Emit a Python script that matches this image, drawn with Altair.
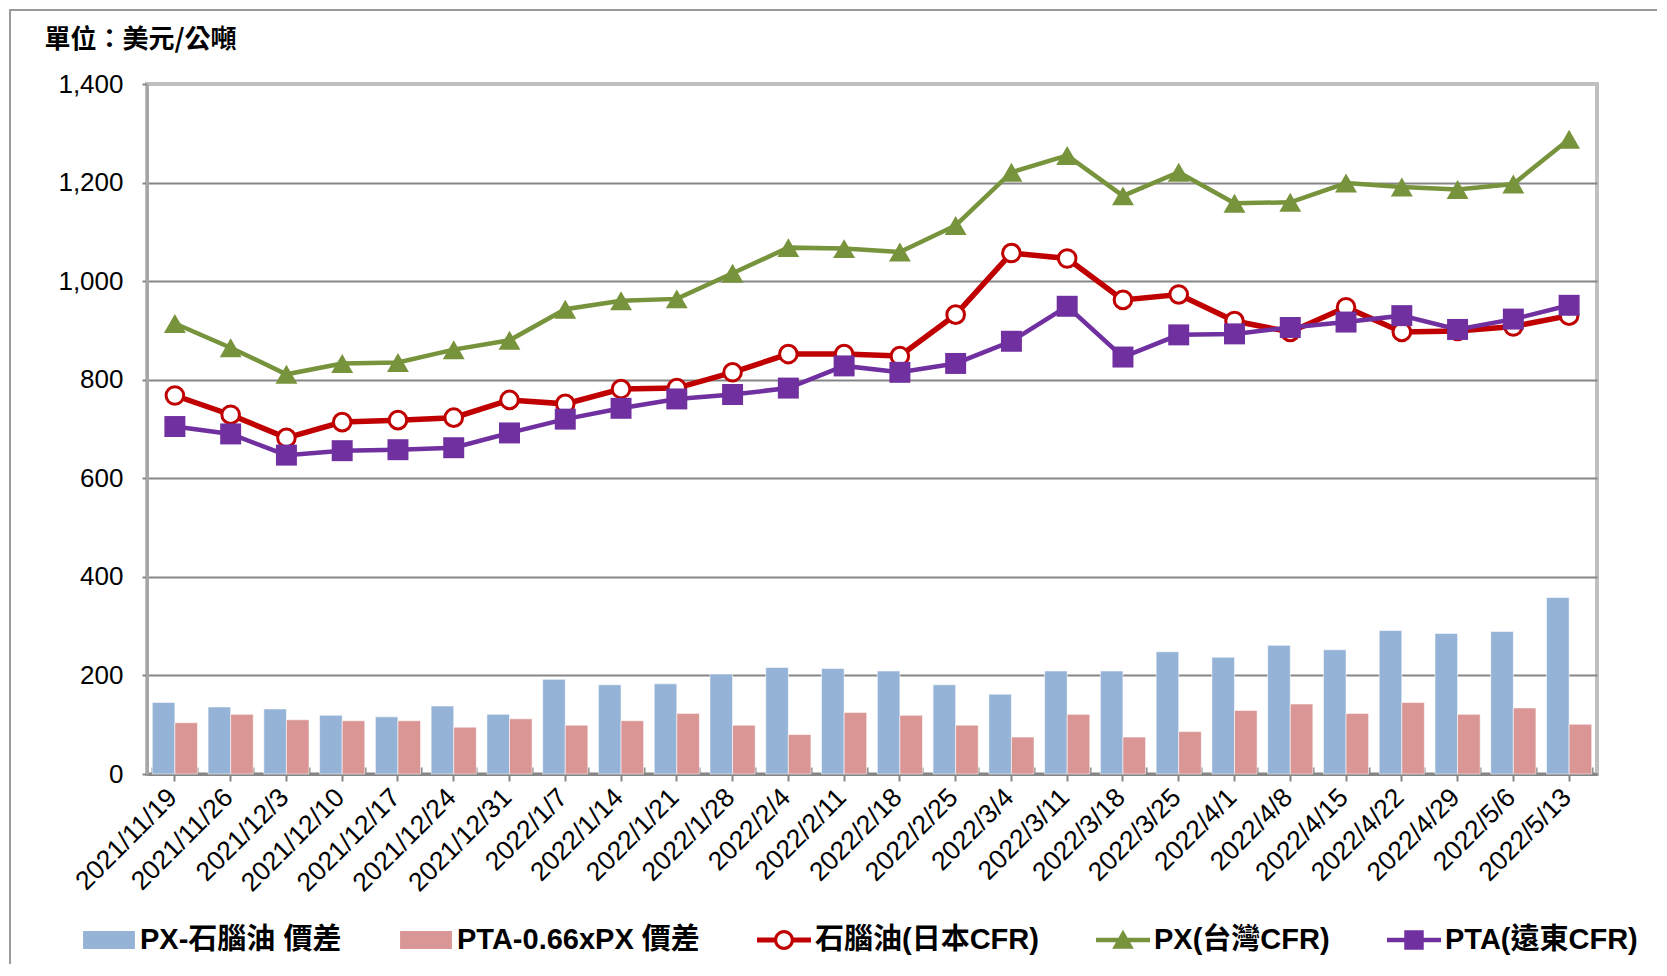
import altair as alt
import pandas as pd

# ---------------- data ----------------
dates = ["2021/11/19", "2021/11/26", "2021/12/3", "2021/12/10", "2021/12/17",
         "2021/12/24", "2021/12/31", "2022/1/7", "2022/1/14", "2022/1/21",
         "2022/1/28", "2022/2/4", "2022/2/11", "2022/2/18", "2022/2/25",
         "2022/3/4", "2022/3/11", "2022/3/18", "2022/3/25", "2022/4/1",
         "2022/4/8", "2022/4/15", "2022/4/22", "2022/4/29", "2022/5/6", "2022/5/13"]

naphtha = [768, 729, 682, 714, 718, 723, 759, 751, 781, 783, 815, 852, 852, 848, 932,
           1057, 1046, 962, 973, 919, 897, 947, 897, 899, 908, 930]
px = [914, 865, 811, 833, 835, 861, 880, 943, 960, 964, 1016, 1068, 1066, 1059, 1113,
      1221, 1255, 1173, 1221, 1158, 1160, 1199, 1191, 1186, 1197, 1288]
pta = [705, 690, 647, 656, 658, 662, 692, 720, 742, 761, 770, 783, 828, 815, 833,
       878, 949, 846, 891, 893, 906, 917, 930, 902, 923, 951]
spread_px_naphtha = [145, 136, 132, 119, 116, 138, 121, 192, 181, 183, 203, 216, 214, 209, 181,
                     162, 209, 209, 248, 237, 261, 252, 291, 285, 289, 358]
spread_pta_px = [104, 121, 110, 108, 108, 95, 112, 99, 108, 123, 99, 80, 125, 119, 99,
                 75, 121, 75, 86, 129, 142, 123, 145, 121, 134, 101]

bar_series = ["PX-石腦油 價差", "PTA-0.66xPX 價差"]
line_series = ["石腦油(日本CFR)", "PX(台灣CFR)", "PTA(遠東CFR)"]
all_series = bar_series + line_series
series_colors = ["#95b3d7", "#d99694", "#c00000", "#77933c", "#7030a0"]
y_ticks = [0, 200, 400, 600, 800, 1000, 1200, 1400]
unit_title = "單位：美元/公噸"

# ---------------- tables ----------------
n = len(dates)
bars_df = pd.DataFrame({
    "date": dates * 2,
    "series": [bar_series[0]] * n + [bar_series[1]] * n,
    "value": spread_px_naphtha + spread_pta_px,
})
lines_df = pd.DataFrame({
    "date": dates * 3,
    "series": [line_series[0]] * n + [line_series[1]] * n + [line_series[2]] * n,
    "value": naphtha + px + pta,
})
legend_df = pd.DataFrame({"series": all_series})

# ---------------- styles ----------------
FONT = "Liberation Sans, Arial, Noto Sans CJK TC, sans-serif"
CJK_FONT = "Noto Sans CJK TC, sans-serif"
AX_GRAY = "#868686"
RED, GREEN, PURPLE = series_colors[2], series_colors[3], series_colors[4]

x_scale = alt.Scale(paddingInner=0.19, paddingOuter=0.095)
y_scale = alt.Scale(domain=[0, 1400], nice=False)
color_scale = alt.Scale(domain=all_series, range=series_colors)
bar_fill_scale = alt.Scale(domain=bar_series, range=series_colors[:2])

# legend symbols: custom paths in a [-1, 1] box
bar_sym = "M-0.96,-0.33 H0.96 V0.33 H-0.96 Z"
circle_sym = ("M-1,-0.09 H-0.33 V0.09 H-1 Z M0.33,-0.09 H1 V0.09 H0.33 Z "
              "M0.37,0 A0.37,0.37 0 1,1 -0.37,0 A0.37,0.37 0 1,1 0.37,0 Z "
              "M0.25,0 A0.25,0.25 0 1,0 -0.25,0 A0.25,0.25 0 1,0 0.25,0 Z")
tri_sym = "M-1,-0.08 H1 V0.08 H-1 Z M0,-0.38 L0.4,0.32 L-0.4,0.32 Z"
sq_sym = "M-1,-0.08 H1 V0.08 H-1 Z M-0.36,-0.36 H0.36 V0.36 H-0.36 Z"
shape_scale = alt.Scale(domain=all_series, range=[bar_sym, bar_sym, circle_sym, tri_sym, sq_sym])

y_axis = alt.Axis(
    values=y_ticks, format=",.0f", title=unit_title, titleAngle=0,
    titleX=-103, titleY=-37, titleAlign="left", titleBaseline="alphabetic",
    titleFont=CJK_FONT, titleFontSize=26, titleFontWeight="bold", titleColor="black",
    labelFont=FONT, labelFontSize=26, labelColor="black", labelPadding=19,
    tickSize=5, tickWidth=2, tickColor=AX_GRAY,
    domainColor="#a6a6a6", domainWidth=3,
    grid=True, gridWidth=2,
    gridColor={"condition": {"test": "datum.value >= 1400", "value": "#c0c0c0"}, "value": AX_GRAY},
)

x_main_axis = alt.Axis(
    title=None, labelAngle=-45, labelAlign="right", labelBaseline="middle",
    labelFont=FONT, labelFontSize=26.5, labelColor="black", labelPadding=12,
    labelOverlap=False, labelBound=False, labelFlush=False, labelOffset=-2,
    tickSize=7, tickWidth=2, tickColor=AX_GRAY,
    domainColor=AX_GRAY, domainWidth=3, grid=False,
)
x_band_ticks = alt.Axis(
    orient="bottom", tickBand="extent", offset=-7, tickSize=7, tickWidth=2,
    tickColor=AX_GRAY, labels=False, domain=False, grid=False, title=None,
)

legend_def = alt.Legend(
    title=None, orient="none", legendX=-65, legendY=829, direction="horizontal",
    columns=5, symbolSize=2916, symbolStrokeWidth=0, symbolOpacity=1,
    labelFont=FONT, labelFontSize=29, labelFontWeight="bold", labelColor="black",
    labelOffset=4, columnPadding=57, labelLimit=600, padding=0,
)

# ---------------- layers ----------------
frame = alt.Chart(pd.DataFrame({"k": [0]})).mark_rect(
    fill="transparent", stroke="#9a9a9a", strokeWidth=2
).encode(
    x=alt.value(-137), x2=alt.value(1800), y=alt.value(-74), y2=alt.value(1100)
)

bars = alt.Chart(bars_df).mark_bar(stroke="white", strokeWidth=0.8, strokeOpacity=0.7).encode(
    x=alt.X("date:N", sort=dates, scale=x_scale, axis=x_main_axis),
    xOffset=alt.XOffset("series:N", sort=bar_series, scale=alt.Scale(paddingInner=0, paddingOuter=0)),
    y=alt.Y("value:Q", scale=y_scale, axis=y_axis),
    fill=alt.Fill("series:N", scale=bar_fill_scale, legend=None),
)


def line_layer(name, color, width, axis=None):
    return alt.Chart(lines_df).transform_filter(
        alt.datum.series == name
    ).mark_line(strokeWidth=width, color=color).encode(
        x=alt.X("date:N", sort=dates, scale=x_scale, axis=axis),
        y=alt.Y("value:Q", scale=y_scale, axis=y_axis),
    )


def point_layer(name, **mark):
    return alt.Chart(lines_df).transform_filter(
        alt.datum.series == name
    ).mark_point(opacity=1, **mark).encode(
        x=alt.X("date:N", sort=dates, scale=x_scale, axis=None),
        y=alt.Y("value:Q", scale=y_scale, axis=y_axis),
    )


green_line = line_layer(line_series[1], GREEN, 4.5, axis=x_band_ticks)
green_pts = point_layer(line_series[1], shape="triangle-up", filled=True, color=GREEN, size=480)
red_line = line_layer(line_series[0], RED, 5.5)
red_pts = point_layer(line_series[0], shape="circle", filled=True, fill="white",
                      stroke=RED, strokeWidth=3, size=310)
purple_line = line_layer(line_series[2], PURPLE, 4.5)
purple_pts = point_layer(line_series[2], shape="square", filled=True, color=PURPLE, size=440)

legend_layer = alt.Chart(legend_df).transform_filter("false").mark_point(
    filled=True, opacity=1
).encode(
    color=alt.Color("series:N", scale=color_scale, legend=legend_def),
    shape=alt.Shape("series:N", scale=shape_scale, legend=legend_def),
)

chart = alt.layer(
    frame, bars, green_line, green_pts, red_line, red_pts, purple_line, purple_pts, legend_layer
).resolve_axis(
    x="independent"
).properties(
    width=1450, height=690,
    autosize=alt.AutoSizeParams(type="none"),
    padding={"left": 139, "top": 76, "right": 60, "bottom": 190},
    background="white",
).configure_view(
    stroke="#c0c0c0", strokeWidth=4
)

chart.save("out.html", embed_options={"renderer": "svg", "actions": False})
